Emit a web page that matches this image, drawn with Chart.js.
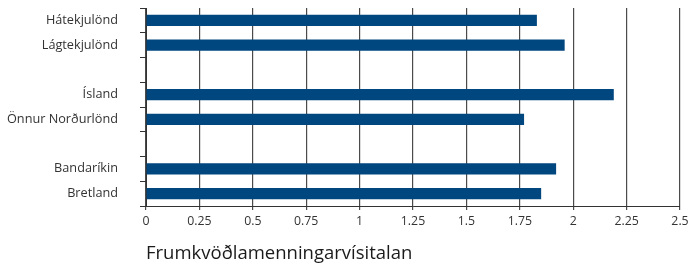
<!DOCTYPE html>
<html><head><meta charset="utf-8">
<script src="https://cdn.jsdelivr.net/npm/chart.js@4/dist/chart.umd.min.js"></script>
<style>html,body{margin:0;padding:0;background:#fff}#w{width:688px;height:265px}</style>
</head><body><div id="w"><canvas id="c"></canvas></div>
<script>
const categories = ['Hátekjulönd', 'Lágtekjulönd', '', 'Ísland', 'Önnur Norðurlönd', '', 'Bandaríkin', 'Bretland'];
const values = [1.83, 1.96, null, 2.19, 1.77, null, 1.92, 1.85];
const xTicks = [0, 0.25, 0.5, 0.75, 1, 1.25, 1.5, 1.75, 2, 2.25, 2.5];
const axisTitle = 'Frumkvöðlamenningarvísitalan';

new Chart(document.getElementById('c'), {
  type: 'bar',
  data: { labels: categories, datasets: [{ data: values, backgroundColor: '#00467f', barPercentage: 0.46, categoryPercentage: 1 }] },
  options: {
    indexAxis: 'y', responsive: true, maintainAspectRatio: false, animation: false,
    layout: { padding: { left: 0, right: 8, top: 8, bottom: 0 } },
    plugins: { legend: { display: false }, tooltip: { enabled: false } },
    scales: {
      x: {
        min: 0, max: 2.5,
        afterBuildTicks: s => { s.ticks = xTicks.map(v => ({ value: v })); },
        afterFit: s => { s.height = 59; s.paddingLeft = 0; s.paddingRight = 0; },
        grid: { color: '#4a4a4a', lineWidth: 1.2, tickLength: 4, drawTicks: true },
        border: { color: '#333', width: 1 },
        ticks: { color: '#333', font: { family: 'Open Sans', size: 12.3 }, padding: 4, maxRotation: 0, callback: v => String(v) },
        title: { display: true, text: axisTitle, align: 'start', color: '#1a1a1a', font: { family: 'Open Sans', size: 18.5 }, padding: { top: 0, bottom: 0 } }
      },
      y: {
        afterFit: s => { s.width = 146; s.paddingTop = 0; s.paddingBottom = 0; },
        grid: { offset: true, drawOnChartArea: false, drawTicks: true, tickLength: 6, color: '#333' },
        border: { color: '#333', width: 1 },
        ticks: { color: '#333', font: { family: 'Open Sans', size: 12.7 }, padding: 22 }
      }
    }
  }
});
</script></body></html>
